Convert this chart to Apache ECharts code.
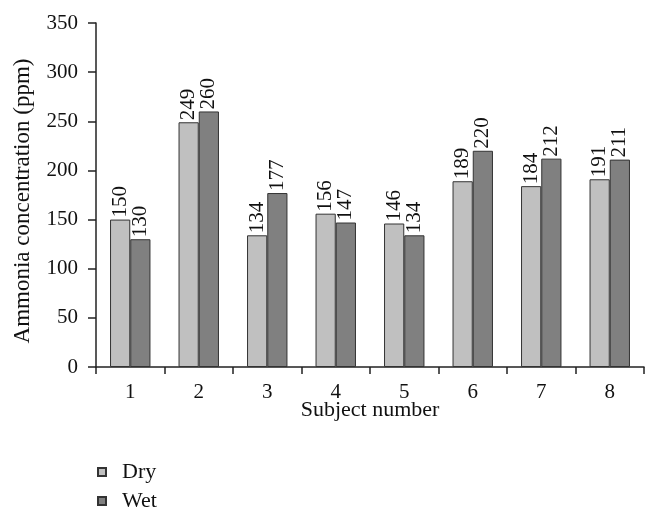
<!DOCTYPE html>
<html>
<head>
<meta charset="utf-8">
<script src="https://cdn.jsdelivr.net/npm/echarts@6/dist/echarts.min.js"></script>
<style>html,body{margin:0;padding:0;background:#fff}#c{width:657px;height:521px}</style>
</head>
<body>
<div id="c"></div>
<script>
const categories = ['1','2','3','4','5','6','7','8'];
const dryValues = [150, 249, 134, 156, 146, 189, 184, 191];
const wetValues = [130, 260, 177, 147, 134, 220, 212, 211];
const yTicks = [0, 50, 100, 150, 200, 250, 300, 350];

const font = 'Liberation Serif';
const numSize = 21;
const textSize = 22;
const chart = echarts.init(document.getElementById('c'));
const labelCfg = {
  show: true, position: 'top', rotate: 90, align: 'left', verticalAlign: 'middle',
  distance: 2, fontFamily: font, fontSize: numSize, color: '#111'
};
chart.setOption({
  animation: false,
  textStyle: {fontFamily: font},
  grid: {left: 96, right: 13, top: 23, bottom: 154},
  legend: {
    orient: 'vertical', left: 97, top: 461, padding: 0, itemWidth: 8, itemHeight: 8, itemGap: 7,
    icon: 'rect',
    textStyle: {fontFamily: font, fontSize: textSize, color: '#111', padding: [0, 0, 0, 11]},
    data: ['Dry', 'Wet']
  },
  xAxis: {
    type: 'category', data: categories,
    name: 'Subject number', nameLocation: 'middle', nameGap: 32, nameMoveOverlap: false,
    nameTextStyle: {fontFamily: font, fontSize: textSize, color: '#111'},
    axisLine: {lineStyle: {color: '#222', width: 1.5}},
    axisTick: {show: true, length: 7, lineStyle: {color: '#222', width: 1.5}},
    axisLabel: {fontFamily: font, fontSize: numSize, color: '#111', margin: 15}
  },
  yAxis: {
    type: 'value', min: yTicks[0], max: yTicks[yTicks.length - 1], interval: 50,
    name: 'Ammonia concentration (ppm)', nameLocation: 'middle', nameGap: 62, nameMoveOverlap: false,
    nameTextStyle: {fontFamily: font, fontSize: 23, color: '#111', padding: [0, 12, 0, 0]},
    splitLine: {show: false},
    axisLine: {show: true, lineStyle: {color: '#222', width: 1.5}},
    axisTick: {show: true, length: 8, lineStyle: {color: '#222', width: 1.5}},
    axisLabel: {fontFamily: font, fontSize: numSize, color: '#111', margin: 18}
  },
  series: [
    {name: 'Dry', type: 'bar', data: dryValues, barGap: '0%', barCategoryGap: '41%',
     itemStyle: {color: '#c0c0c0', borderColor: '#333', borderWidth: 1}, label: labelCfg},
    {name: 'Wet', type: 'bar', data: wetValues,
     itemStyle: {color: '#808080', borderColor: '#333', borderWidth: 1}, label: labelCfg}
  ]
});
</script>
</body>
</html>
